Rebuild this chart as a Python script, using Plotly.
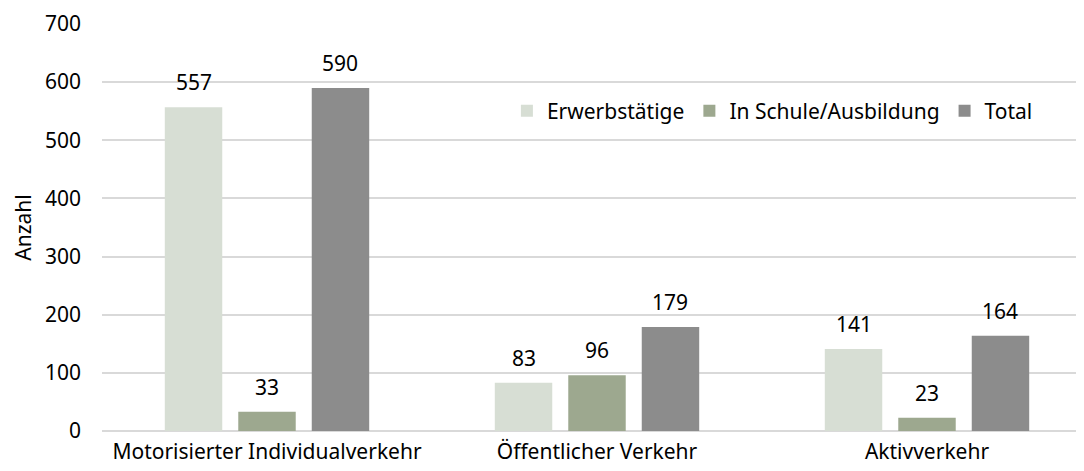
import plotly.graph_objects as go

categories = ["Motorisierter Individualverkehr", "Öffentlicher Verkehr", "Aktivverkehr"]
series_names = ["Erwerbstätige", "In Schule/Ausbildung", "Total"]
erwerbstaetige = [557, 83, 141]
schule = [33, 96, 23]
total = [590, 179, 164]
y_ticks = [0, 100, 200, 300, 400, 500, 600, 700]

colors = ["#D7DED4", "#9DA88F", "#8C8C8C"]
FONT = "Noto Sans"
FS = 21

fig = go.Figure()
xs = list(range(len(categories)))
n = len(series_names)
bargap = 0.332
bargroupgap = 0.218
group_w = 1 - bargap
for i, (name, vals, col) in enumerate(zip(series_names, [erwerbstaetige, schule, total], colors)):
    fig.add_trace(go.Bar(
        x=xs, y=vals, name=name, marker=dict(color=col, line=dict(width=0)),
    ))
    offset = (i - (n - 1) / 2) * group_w / n
    for x, v in zip(xs, vals):
        fig.add_annotation(
            x=x + offset, y=v, text=str(v), showarrow=False,
            yanchor="middle", yshift=25,
            font=dict(family=FONT, size=FS, color="#000000"),
        )

fig.update_layout(
    width=1084, height=471,
    margin=dict(l=93.5, r=0, t=16, b=48),
    paper_bgcolor="white", plot_bgcolor="white",
    barmode="group", bargap=bargap, bargroupgap=bargroupgap,
    font=dict(family=FONT, size=FS, color="#000000"),
    showlegend=True,
    legend=dict(orientation="h", x=0.409, y=0.786, xanchor="left", yanchor="middle",
                font=dict(family=FONT, size=FS, color="#000000"),
                bgcolor="rgba(0,0,0,0)", traceorder="normal"),
    xaxis=dict(
        tickmode="array", tickvals=xs, ticktext=categories,
        range=[-0.5, 2.5], showgrid=False, zeroline=False, showline=False,
        ticks="", ticklabelstandoff=6,
        tickfont=dict(family=FONT, size=FS, color="#000000"),
    ),
    yaxis=dict(
        range=[0, 700], tickvals=y_ticks, showgrid=True, gridcolor="#D9D9D9", gridwidth=1.5,
        zeroline=True, zerolinecolor="#D9D9D9", zerolinewidth=1.5, showline=False,
        ticks="", ticklabelstandoff=20,
        tickfont=dict(family=FONT, size=FS, color="#000000"),
        title=dict(text="Anzahl", font=dict(family=FONT, size=FS, color="#000000"), standoff=7),
    ),
)

fig.write_html("out.html")
